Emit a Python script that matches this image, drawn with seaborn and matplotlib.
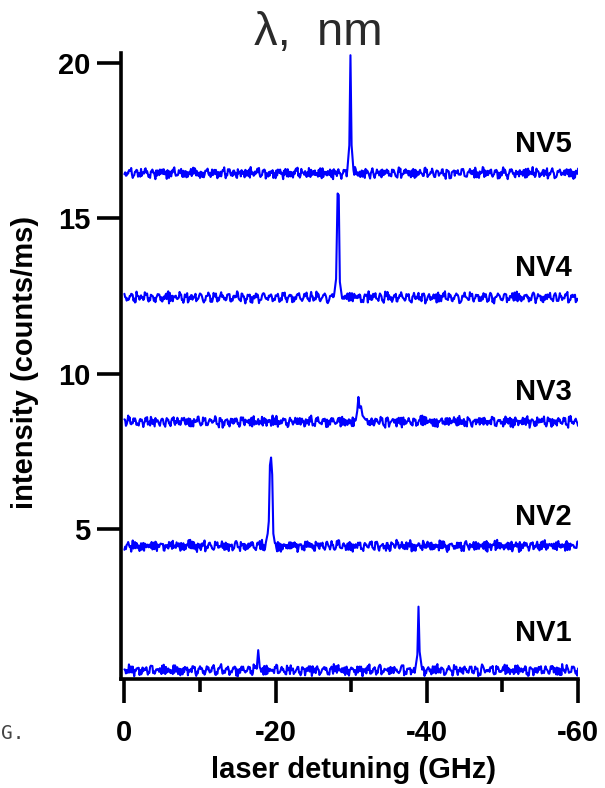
import numpy as np
import pandas as pd
import matplotlib
matplotlib.use("Agg")
import matplotlib.pyplot as plt
import seaborn as sns
from matplotlib.ticker import MultipleLocator

# one trace per NV centre, stacked with an offset of ~4 counts/ms
labels = ["NV1", "NV2", "NV3", "NV4", "NV5"]
baselines = [0.45, 4.45, 8.45, 12.45, 16.45]
label_y = [1.65, 5.4, 9.4, 13.4, 17.4]

# hand-read baseline jitter (counts/ms), reused with different starts per trace
jitter = [
    0.03, -0.08, 0.12, -0.02, 0.06, -0.15, 0.09, 0.01, -0.05, 0.14,
    -0.11, 0.04, -0.03, 0.18, -0.07, 0.02, -0.12, 0.08, 0.00, -0.06,
    0.11, -0.16, 0.05, 0.07, -0.04, 0.13, -0.09, 0.02, -0.01, 0.10,
    -0.13, 0.06, 0.20, -0.08, 0.03, -0.05, 0.09, -0.17, 0.04, 0.01,
    -0.07, 0.12, -0.02, 0.08, -0.10, 0.05, -0.14, 0.15, -0.03, 0.02,
    0.07, -0.09, 0.11, -0.05, 0.00, 0.16, -0.12, 0.04, -0.06, 0.09,
    -0.02, 0.13, -0.18, 0.06, 0.03, -0.08, 0.10, -0.04, 0.05, -0.11,
    0.14, -0.01, 0.07, -0.15, 0.02, 0.09, -0.06, 0.12, -0.03, 0.04,
    -0.10, 0.19, -0.07, 0.01, 0.08, -0.13, 0.05, -0.02, 0.11, -0.09,
    0.03, -0.05, 0.15, -0.12, 0.06, 0.00, -0.08, 0.10, -0.16, 0.07,
    0.02, -0.04, 0.13, -0.10, 0.05, 0.08, -0.14, 0.03, -0.01, 0.17,
    -0.06, 0.09, -0.11, 0.04, 0.02, -0.07, 0.12, -0.19, 0.06, 0.01,
    -0.03, 0.10, -0.08, 0.14, -0.05, 0.03, -0.12, 0.07, 0.00, -0.09,
    0.16, -0.04, 0.05, -0.13, 0.08, 0.02, -0.06, 0.11, -0.10, 0.04,
    -0.02, 0.13, -0.07, 0.09, -0.15, 0.05, 0.01, -0.08, 0.12, -0.03,
    0.06,
]
rolls = [(0, 37, 71, 112), (58, 91, 13, 140), (17, 120, 66, 29),
         (74, 5, 133, 48), (103, 44, 86, 9)]

# resonance lines: detuning (GHz) and height above baseline
peaks_x = {
    "NV1": [[-17.5, -17.7, -17.9], [-38.5, -38.75, -38.9, -39.05, -39.3]],
    "NV2": [[-18.7, -18.95, -19.1, -19.25, -19.4, -19.55, -19.7, -19.9]],
    "NV3": [[-30.6, -30.8, -30.95, -31.1, -31.3, -31.5, -31.8]],
    "NV4": [[-27.8, -28.0, -28.2, -28.35, -28.5, -28.7]],
    "NV5": [[-29.5, -29.75, -29.9, -30.05, -30.3]],
}
peaks_dy = {
    "NV1": [[0.05, 0.65, 0.1], [0.1, 0.5, 2.05, 0.6, 0.15]],
    "NV2": [[0.1, 0.4, 0.8, 2.6, 2.85, 2.3, 0.4, 0.1]],
    "NV3": [[0.05, 0.35, 0.8, 0.45, 0.5, 0.2, 0.1]],
    "NV4": [[0.2, 0.6, 3.35, 3.3, 0.5, 0.15]],
    "NV5": [[0.15, 0.9, 3.8, 0.9, 0.1]],
}

detuning = np.arange(601) * -0.1

frames = []
for i, nv in enumerate(labels):
    parts = [np.roll(jitter, r) for r in rolls[i]]
    noise = np.column_stack(parts).ravel()[:601]
    keep = np.ones(601, dtype=bool)
    for px in peaks_x[nv]:
        keep &= ~((detuning <= max(px) + 0.05) & (detuning >= min(px) - 0.05))
    xs = list(detuning[keep])
    ys = list(baselines[i] + noise[keep])
    for px, dy in zip(peaks_x[nv], peaks_dy[nv]):
        xs += px
        ys += [baselines[i] + d for d in dy]
    frames.append(pd.DataFrame({"detuning": xs, "intensity": ys, "nv": nv}))
df = pd.concat(frames, ignore_index=True)

sns.set_style("ticks", {"axes.edgecolor": "black", "text.color": "black",
                        "xtick.color": "black", "ytick.color": "black",
                        "axes.labelcolor": "black"})
plt.rcParams["font.family"] = ["Liberation Sans", "DejaVu Sans"]
plt.rcParams["font.weight"] = "bold"

fig = plt.figure(figsize=(6.05, 7.88), dpi=100)
ax = fig.add_axes([0.2, 0.1383, 0.7554, 0.7944])

for nv in labels:
    sns.lineplot(data=df[df["nv"] == nv], x="detuning", y="intensity",
                 color="#0000ff", lw=1.5, estimator=None, ax=ax)

for nv, yy in zip(labels, label_y):
    ax.text(-59.2, yy, nv, ha="right", va="center", fontsize=21,
            weight="bold", color="black")

ax.set_xlim(0.45, -60)
ax.set_ylim(0.17, 20.32)
ax.xaxis.set_minor_locator(MultipleLocator(10))
ax.set_yticks([5, 10, 15, 20])
ax.set_xticks([0, -20, -40, -60])
ax.set_xticklabels(["0", "-20", "-40", "-60"])

sns.despine(ax=ax)
for s in ["left", "bottom"]:
    ax.spines[s].set_linewidth(2.6)
    ax.spines[s].set_color("black")
ax.tick_params(axis="both", which="major", length=17, width=2.6,
               labelsize=21, colors="black")
ax.tick_params(axis="x", which="major", pad=12)
ax.tick_params(axis="y", which="major", pad=5)
ax.tick_params(axis="x", which="minor", length=9.5, width=2.6, colors="black")

ax.set_xlabel("laser detuning (GHz)", fontsize=21, weight="bold", va="top",
              color="black")
ax.xaxis.set_label_coords(0.508, -0.123)
ax.set_ylabel("intensity (counts/ms)", fontsize=21, weight="bold", va="center",
              color="black")
ax.yaxis.set_label_coords(-0.21, 0.506)

fig.text(0.526, 0.943, "λ,  nm", ha="center", va="baseline", fontsize=34,
         weight="normal", color="#2a2a2a")
fig.text(1 / 605, 1 - 743 / 788, "G.", ha="left", va="bottom", fontsize=14,
         family="DejaVu Sans Mono", weight="normal", color="#444444")

fig.savefig("out.png", dpi=100)
